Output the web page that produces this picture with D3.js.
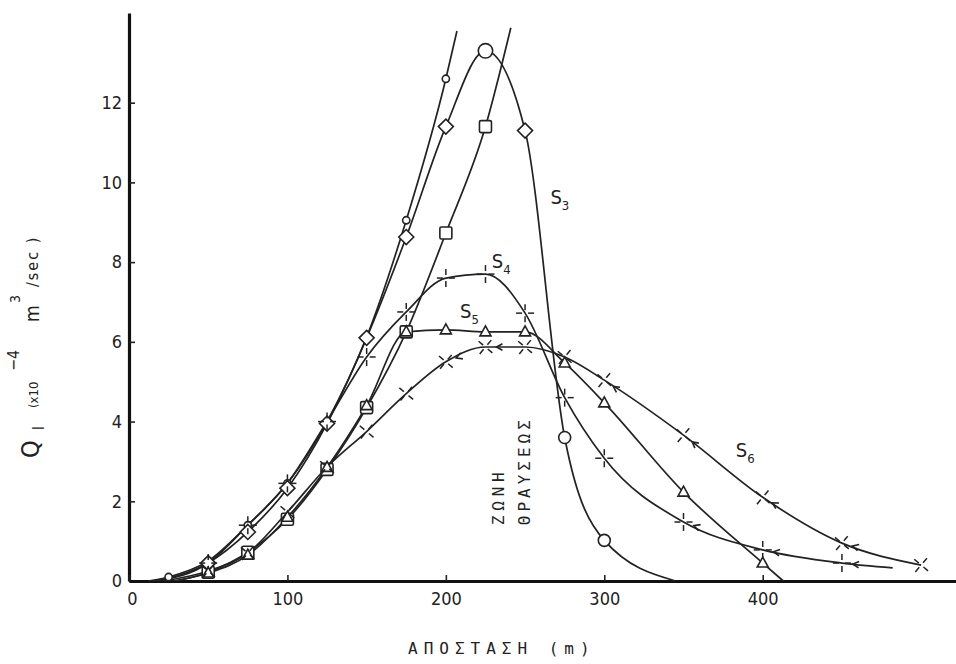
<!DOCTYPE html>
<html><head><meta charset="utf-8">
<script src="https://cdn.jsdelivr.net/npm/d3@7"></script>
<style>
html,body{margin:0;padding:0;background:#fff;}
svg{display:block;}
</style></head><body>
<svg id="chart" width="956" height="664"></svg>
<script>
// Distance along the profile (m) and discharge Q_l (x10^-4 m^3/sec) per test series
const DIST_S1 = [12, 25, 50, 75, 100, 125, 150, 175, 200, 207];
const Q_S1    = [0, 0.1, 0.5, 1.4, 2.45, 4.0, 6.12, 9.05, 12.6, 13.8];
const DIST_S2 = [30, 50, 75, 100, 125, 150, 175, 200, 225, 241];
const Q_S2    = [0, 0.22, 0.72, 1.55, 2.8, 4.35, 6.25, 8.73, 11.4, 13.88];
const DIST_S3 = [15, 50, 75, 100, 125, 150, 175, 200, 225, 250, 275, 300, 345];
const Q_S3    = [0, 0.45, 1.23, 2.33, 3.95, 6.1, 8.63, 11.4, 13.3, 11.3, 3.6, 1.02, 0];
const DIST_S4 = [18, 50, 75, 100, 125, 150, 175, 200, 225, 250, 275, 300, 350, 400, 450, 482];
const Q_S4    = [0, 0.45, 1.4, 2.45, 4.0, 5.62, 6.75, 7.6, 7.7, 6.72, 4.6, 3.08, 1.48, 0.78, 0.45, 0.33];
const DIST_S5 = [28, 50, 75, 100, 125, 150, 175, 200, 225, 250, 275, 300, 350, 400, 413];
const Q_S5    = [0, 0.2, 0.65, 1.6, 2.85, 4.4, 6.25, 6.3, 6.25, 6.25, 5.47, 4.47, 2.23, 0.45, 0];
const DIST_S6 = [22, 50, 75, 100, 125, 150, 175, 200, 225, 250, 275, 300, 350, 400, 450, 500];
const Q_S6    = [0, 0.25, 0.7, 1.73, 2.86, 3.75, 4.7, 5.5, 5.87, 5.87, 5.62, 5.04, 3.66, 2.1, 0.95, 0.4];

// Axis ticks
const X_TICKS = [0, 100, 200, 300, 400];
const Y_TICKS = [0, 2, 4, 6, 8, 10, 12];

// Measurement stations are every 25 m; other points only shape the curve
const STATION_STEP = 25;

const INK = "#222";
const FONT = "'DejaVu Sans Condensed','DejaVu Sans',sans-serif";
const MONO = "'DejaVu Sans Mono','Liberation Mono',monospace";

const svg = d3.select("#chart");
const x = d3.scaleLinear().domain([0, 522]).range([129, 956]);
const y = d3.scaleLinear().domain([0, 14.25]).range([581, 13]);

const series = [
  {name: "S1", dist: DIST_S1, q: Q_S1, shape: () => "dot"},
  {name: "S2", dist: DIST_S2, q: Q_S2, shape: () => "square"},
  {name: "S3", dist: DIST_S3, q: Q_S3, shape: d => d.x === 225 ? "ring" : d.x > 250 ? "circle" : "diamond",
   label: {x: 266, q: 9.45, sub: "3"}},
  {name: "S4", dist: DIST_S4, q: Q_S4, shape: () => "plus", arrows: [350, 400, 450],
   label: {x: 229, q: 7.85, sub: "4"}},
  {name: "S5", dist: DIST_S5, q: Q_S5, shape: () => "triangle",
   label: {x: 209, q: 6.6, sub: "5"}},
  {name: "S6", dist: DIST_S6, q: Q_S6, shape: () => "cross", arrows: [200, 225, 300, 350, 400, 450],
   label: {x: 383, q: 3.1, sub: "6"}}
].map(s => ({...s, pts: s.dist.map((d, i) => ({x: d, q: s.q[i]}))}));

const line = d3.line().x(d => x(d.x)).y(d => y(d.q)).curve(d3.curveMonotoneX);

// ---- axes ----
const yAxis = d3.axisLeft(y).tickValues(Y_TICKS).tickSize(-6).tickSizeOuter(0).tickPadding(7);
const gy = svg.append("g").attr("transform", `translate(${x(0)},0)`).call(yAxis);
const xAxis = d3.axisBottom(x).tickValues(X_TICKS).tickSize(-6).tickSizeOuter(0).tickPadding(11);
const gx = svg.append("g").attr("transform", `translate(0,${y(0)})`).call(xAxis);

[gy, gx].forEach(g => {
  g.selectAll(".tick line").attr("stroke", INK).attr("stroke-width", 1.6);
  g.selectAll(".tick text").attr("fill", INK).style("font-family", FONT).style("font-size", "18px");
});
gy.select(".domain").attr("stroke", "#111").attr("stroke-width", 3.2);
gx.select(".domain").attr("stroke", "#111").attr("stroke-width", 2.8);
gx.selectAll(".tick text").attr("dx", d => d === 0 ? 3 : 0);

// ---- curves ----
const plot = svg.append("g");
plot.selectAll("path.curve").data(series).join("path")
  .attr("class", "curve")
  .attr("d", s => line(s.pts))
  .attr("fill", "none").attr("stroke", INK).attr("stroke-width", 1.7);

// direction arrows on the dashed-star series, pointing back toward the station
series.filter(s => s.arrows).forEach(s => {
  s.arrows.forEach(st => {
    const i = s.pts.findIndex(p => p.x === st);
    const a = s.pts[i], b = s.pts[i + 1];
    const ax = x(a.x), ay = y(a.q), bx = x(b.x), by = y(b.q);
    const len = Math.hypot(bx - ax, by - ay);
    const ux = (bx - ax) / len, uy = (by - ay) / len;
    const tx = ax + ux * 11, ty = ay + uy * 11;
    const px = -uy, py = ux;
    plot.append("path")
      .attr("d", `M${tx + ux * 6 + px * 3.2},${ty + uy * 6 + py * 3.2}L${tx},${ty}L${tx + ux * 6 - px * 3.2},${ty + uy * 6 - py * 3.2}`)
      .attr("fill", "none").attr("stroke", INK).attr("stroke-width", 1.6);
  });
});

// ---- markers ----
function drawMarker(g, kind) {
  const open = {fill: "#fff", stroke: INK, "stroke-width": 1.6};
  const put = (el, attrs) => { Object.entries({...open, ...attrs}).forEach(([k, v]) => el.attr(k, v)); };
  if (kind === "dot") put(g.append("circle"), {r: 3.6});
  else if (kind === "ring") put(g.append("circle"), {r: 7.2});
  else if (kind === "circle") put(g.append("circle"), {r: 6});
  else if (kind === "square") put(g.append("rect"), {x: -6, y: -6, width: 12, height: 12, rx: 1.5});
  else if (kind === "diamond") put(g.append("path"), {d: "M0,-7.5L7.5,0L0,7.5L-7.5,0Z"});
  else if (kind === "triangle") put(g.append("path"), {d: "M0,-6L5.5,4L-5.5,4Z"});
  else {
    const rot = kind === "plus" ? 0 : 40;
    const gg = g.append("g").attr("transform", `rotate(${rot})`);
    [[0, -1], [0, 1], [-1, 0], [1, 0]].forEach(([dx, dy]) => {
      gg.append("line")
        .attr("x1", dx * 3).attr("y1", dy * 3).attr("x2", dx * 9).attr("y2", dy * 9)
        .attr("stroke", INK).attr("stroke-width", 1.5);
    });
  }
}

series.forEach(s => {
  s.pts.filter(p => p.x % STATION_STEP === 0).forEach(p => {
    const g = plot.append("g").attr("transform", `translate(${x(p.x)},${y(p.q)})`);
    drawMarker(g, s.shape(p));
  });
});

// ---- series labels ----
series.filter(s => s.label).forEach(s => {
  const t = svg.append("text")
    .attr("x", x(s.label.x)).attr("y", y(s.label.q))
    .attr("fill", INK).style("font-family", FONT).style("font-size", "20px");
  t.append("tspan").text("S");
  t.append("tspan").attr("dy", 6).style("font-size", "13px").text(s.label.sub);
});

// ---- breaking zone note ----
const zone = svg.append("g").attr("transform", `translate(${x(237)},${y(1.4)}) rotate(-90)`)
  .attr("fill", INK).style("font-family", MONO).style("font-size", "16px");
zone.append("text").attr("x", 0).attr("y", 0).attr("letter-spacing", 4.8).text("ΖΩΝΗ");
zone.append("text").attr("x", 0).attr("y", 26).attr("letter-spacing", 4).text("ΘΡΑΥΣΕΩΣ");

// ---- axis titles ----
svg.append("text")
  .attr("x", 408).attr("y", 654)
  .attr("fill", INK).style("font-family", MONO).style("font-size", "16px")
  .attr("letter-spacing", 6).text("ΑΠΟΣΤΑΣΗ (m)");

const yt = svg.append("g").attr("transform", "translate(39,0) rotate(-90)")
  .attr("fill", INK).style("font-family", FONT);
yt.append("text").attr("x", -458).attr("y", 0).style("font-size", "25px").text("Q");
yt.append("text").attr("x", -430).attr("y", 5).style("font-size", "15px").text("l");
yt.append("text").attr("x", -408).attr("y", -1).style("font-size", "13px").text("(x10");
yt.append("text").attr("x", -371).attr("y", -20).style("font-size", "16px").text("−4");
yt.append("text").attr("x", -322).attr("y", 0).style("font-size", "19px").text("m");
yt.append("text").attr("x", -303).attr("y", -19).style("font-size", "14px").text("3");
yt.append("text").attr("x", -287).attr("y", -1).style("font-size", "16px").attr("letter-spacing", 2).text("/sec )");
</script>
</body></html>
